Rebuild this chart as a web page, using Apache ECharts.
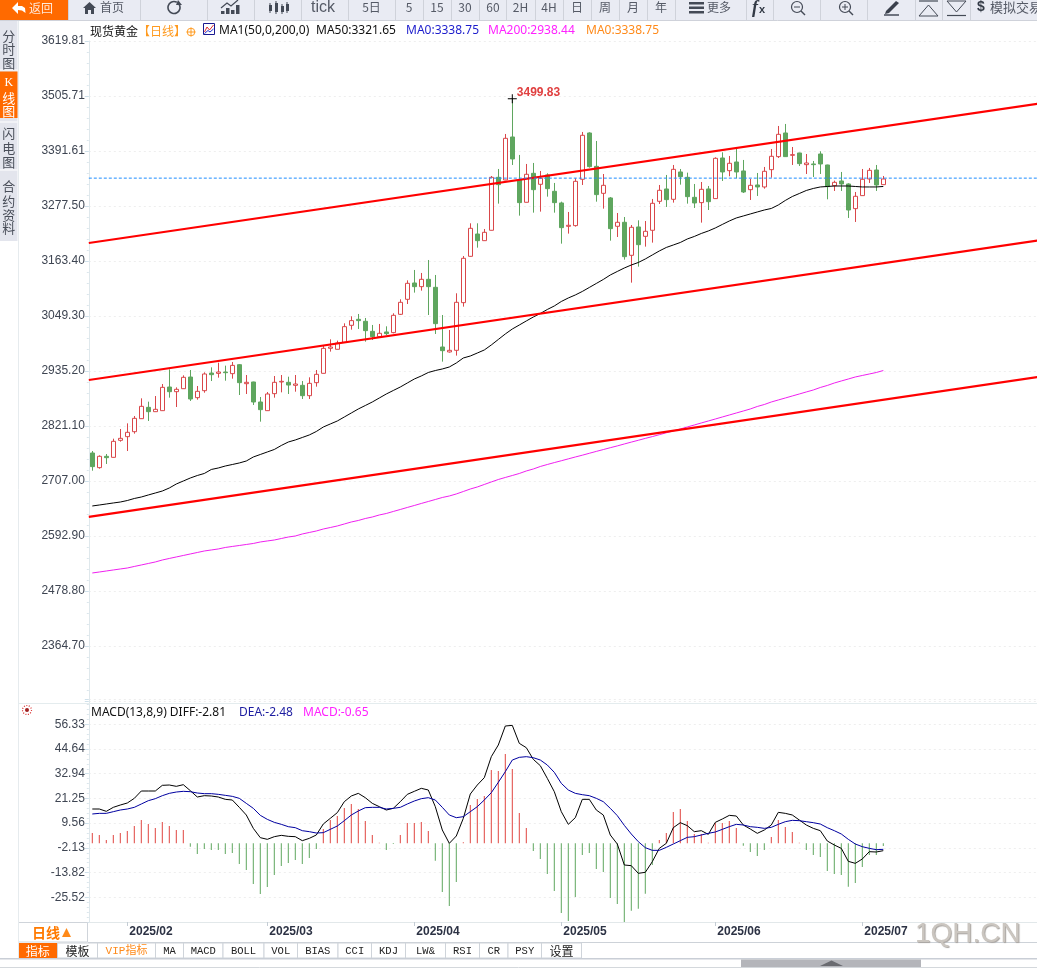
<!DOCTYPE html>
<html>
<head>
<meta charset="utf-8">
<script src="https://cdn.jsdelivr.net/npm/echarts@6/dist/echarts.min.js"></script>
<style>html,body{margin:0;padding:0;background:#fff;overflow:hidden}#c{width:1037px;height:970px}</style>
</head>
<body>
<div id="c"></div>
<script>
// ---- data ----
const dates = ['2025/01/27','2025/01/28','2025/01/29','2025/01/30','2025/01/31',
'2025/02/03','2025/02/04','2025/02/05','2025/02/06','2025/02/07','2025/02/10','2025/02/11','2025/02/12','2025/02/13','2025/02/14','2025/02/17','2025/02/18','2025/02/19','2025/02/20','2025/02/21','2025/02/24','2025/02/25','2025/02/26','2025/02/27','2025/02/28',
'2025/03/03','2025/03/04','2025/03/05','2025/03/06','2025/03/07','2025/03/10','2025/03/11','2025/03/12','2025/03/13','2025/03/14','2025/03/17','2025/03/18','2025/03/19','2025/03/20','2025/03/21','2025/03/24','2025/03/25','2025/03/26','2025/03/27','2025/03/28','2025/03/31',
'2025/04/01','2025/04/02','2025/04/03','2025/04/04','2025/04/07','2025/04/08','2025/04/09','2025/04/10','2025/04/11','2025/04/14','2025/04/15','2025/04/16','2025/04/17','2025/04/21','2025/04/22','2025/04/23','2025/04/24','2025/04/25','2025/04/28','2025/04/29','2025/04/30',
'2025/05/01','2025/05/02','2025/05/05','2025/05/06','2025/05/07','2025/05/08','2025/05/09','2025/05/12','2025/05/13','2025/05/14','2025/05/15','2025/05/16','2025/05/19','2025/05/20','2025/05/21','2025/05/22','2025/05/23','2025/05/26','2025/05/27','2025/05/28','2025/05/29','2025/05/30',
'2025/06/02','2025/06/03','2025/06/04','2025/06/05','2025/06/06','2025/06/09','2025/06/10','2025/06/11','2025/06/12','2025/06/13','2025/06/16','2025/06/17','2025/06/18','2025/06/19','2025/06/20','2025/06/23','2025/06/24','2025/06/25','2025/06/26','2025/06/27','2025/06/30',
'2025/07/01','2025/07/02','2025/07/03','2025/07/04'];
const emptySlots = 22;
const monthStarts = ['2025/02/03','2025/03/03','2025/04/01','2025/05/01','2025/06/02','2025/07/01'];

// open, close, low, high
const candles = [
[2765.1,2736.8,2728.4,2769.2],[2734.7,2758.2,2732.6,2760.2],[2758.2,2755.4,2742.3,2763.0],[2756.1,2789.3,2755.5,2794.8],[2791.4,2795.5,2788.6,2814.9],
[2799.0,2808.0,2769.2,2826.6],[2809.3,2837.0,2805.2,2841.8],[2836.3,2861.9,2836.0,2878.5],[2859.8,2850.8,2831.5,2871.6],[2850.8,2855.7,2850.5,2883.3],
[2852.9,2901.3,2852.6,2908.2],[2902.0,2892.3,2879.9,2938.6],[2892.3,2897.2,2860.5,2901.3],[2898.5,2922.1,2898.2,2926.2],[2922.7,2877.1,2873.0,2937.3],
[2879.9,2893.0,2875.7,2904.1],[2894.4,2929.0,2890.2,2932.4],[2931.0,2927.6,2914.4,2942.8],[2930.3,2933.1,2921.4,2952.5],[2933.1,2931.7,2915.1,2946.3],
[2929.7,2946.9,2919.3,2953.9],[2948.3,2911.0,2885.4,2949.7],[2908.9,2911.7,2887.5,2926.9],[2912.4,2870.9,2864.7,2913.0],[2870.9,2855.0,2830.1,2881.3],
[2852.9,2887.5,2852.6,2891.6],[2888.2,2911.7,2879.9,2924.8],[2912.4,2913.8,2890.9,2926.9],[2911.7,2906.1,2887.5,2923.4],[2905.5,2908.2,2892.3,2926.9],
[2905.5,2884.0,2877.1,2914.4],[2884.0,2909.6,2877.1,2922.1],[2911.0,2928.3,2902.7,2937.3],[2930.4,2982.2,2930.1,2989.1],[2982.3,2985.0,2975.4,3000.9],
[2980.2,2993.3,2980.0,2998.2],[2994.7,3027.2,2994.5,3034.1],[3030.0,3039.7,3021.0,3048.7],[3042.4,3039.7,3022.4,3053.5],[3038.3,3018.9,2996.1,3045.2],
[3017.5,3006.5,2999.6,3030.7],[3006.5,3013.4,3005.1,3032.8],[3016.2,3012.7,3009.9,3027.9],[3014.8,3050.7,3013.4,3054.9],[3052.8,3077.7,3051.4,3083.9],
[3083.9,3117.1,3074.2,3123.3],[3117.8,3110.2,3097.8,3144.8],[3110.2,3125.4,3101.9,3138.6],[3125.4,3110.2,3051.4,3165.5],[3108.8,3033.4,3012.0,3134.4],
[2985.0,2977.4,2954.6,3051.4],[2974.7,2978.1,2973.3,3020.3],[2978.1,3077.7,2967.1,3096.4],[3077.0,3169.0,3068.7,3173.8],[3173.1,3231.2,3172.4,3241.6],
[3219.4,3205.6,3191.1,3241.6],[3205.6,3222.9,3205.3,3229.8],[3227.1,3337.0,3226.8,3339.8],[3337.0,3321.8,3282.4,3354.3],[3331.5,3417.9,3331.2,3426.9],
[3420.7,3375.1,3362.6,3499.83],[3331.5,3284.5,3257.5,3383.4],[3285.2,3343.3,3285.0,3364.7],[3345.3,3311.4,3263.7,3366.8],[3322.5,3335.0,3265.8,3350.2],
[3341.9,3313.5,3296.9,3345.3],[3308.0,3284.5,3263.7,3325.3],[3283.8,3232.6,3199.4,3286.5],[3235.4,3237.5,3220.2,3265.1],[3236.8,3328.7,3234.7,3335.0],
[3332.9,3424.2,3321.1,3431.1],[3429.0,3359.2,3357.1,3430.4],[3359.8,3301.1,3286.5,3412.4],[3303.8,3320.4,3272.0,3343.9],[3294.2,3230.5,3205.6,3296.2],
[3235.4,3243.7,3213.2,3263.0],[3243.7,3172.4,3166.2,3254.7],[3175.2,3233.3,3118.5,3238.1],[3234.0,3197.3,3151.7,3247.8],[3214.6,3225.0,3193.2,3246.4],
[3227.1,3283.1,3201.5,3292.1],[3287.2,3310.1,3281.7,3321.1],[3312.8,3290.7,3275.5,3341.9],[3291.4,3353.6,3284.5,3362.6],[3348.1,3338.4,3321.8,3354.3],
[3337.0,3296.9,3282.4,3346.7],[3295.5,3283.8,3273.4,3323.2],[3284.5,3312.1,3243.0,3327.3],[3312.8,3286.5,3269.2,3319.0],[3292.8,3376.4,3292.5,3378.5],
[3377.1,3348.1,3329.4,3388.9],[3350.8,3366.1,3339.1,3381.3],[3368.8,3348.1,3334.9,3397.9],[3350.2,3306.6,3304.5,3373.0],[3311.4,3320.4,3290.0,3333.6],
[3321.1,3317.0,3298.3,3346.0],[3317.0,3349.5,3313.5,3358.5],[3352.9,3380.6,3336.3,3395.8],[3379.9,3426.2,3377.1,3443.5],[3429.0,3379.9,3379.6,3447.7],
[3382.7,3384.0,3362.6,3399.9],[3387.5,3365.4,3360.5,3388.0],[3363.3,3366.7,3343.9,3385.4],[3364.7,3363.3,3337.7,3370.9],[3385.4,3364.7,3343.9,3391.0],
[3362.6,3317.7,3291.4,3363.2],[3319.7,3326.6,3308.7,3330.1],[3329.4,3323.2,3308.7,3348.1],[3323.2,3269.2,3252.7,3324.6],[3272.0,3297.6,3244.4,3306.6],
[3299.0,3332.9,3298.7,3354.3],[3333.5,3351.5,3325.3,3356.4],[3352.2,3321.1,3308.7,3362.6],[3321.8,3333.5,3321.5,3339.8]];

const ma50 = [2655.2,2657.2,2659.3,2661.4,2663.4,2666.5,2670.7,2673.8,2678.0,2682.1,2686.2,2692.5,2700.8,2707.0,2713.2,2718.4,2722.6,2730.9,2734.0,2738.1,2741.2,2744.4,2748.5,2756.8,2762.0,2767.2,2772.4,2780.7,2787.9,2792.1,2797.3,2802.5,2809.7,2819.0,2825.3,2831.5,2839.8,2848.1,2856.4,2863.6,2870.9,2879.2,2887.5,2894.8,2902.0,2910.3,2918.6,2924.9,2932.1,2936.2,2939.4,2943.5,2951.8,2962.2,2966.3,2972.5,2978.8,2989.2,3000.6,3012.0,3022.3,3030.6,3039.0,3047.2,3054.5,3062.8,3070.1,3079.4,3086.7,3092.9,3100.2,3108.5,3116.8,3125.1,3134.4,3141.7,3148.9,3155.1,3160.3,3167.6,3175.9,3184.2,3191.5,3196.6,3201.8,3209.1,3214.3,3220.5,3225.7,3231.9,3239.2,3246.4,3252.7,3256.8,3261.0,3265.1,3269.2,3272.4,3279.6,3289.0,3297.2,3303.4,3309.7,3313.9,3317.0,3318.0,3319.0,3319.0,3319.0,3318.0,3317.0,3317.0,3317.0,3318.0];
const ma200 = [2516.2,2518.2,2520.3,2522.4,2524.5,2526.5,2529.7,2532.8,2535.9,2539.0,2543.1,2546.3,2549.4,2552.5,2555.6,2558.7,2561.8,2563.9,2566.0,2569.1,2571.2,2573.2,2575.3,2577.4,2580.5,2582.6,2584.6,2587.7,2590.8,2592.9,2597.1,2600.2,2603.3,2607.4,2610.5,2613.7,2617.8,2622.0,2625.1,2629.2,2632.3,2636.5,2639.6,2643.8,2647.9,2652.1,2656.2,2660.4,2664.5,2668.6,2672.8,2675.9,2680.1,2685.2,2690.4,2694.6,2699.8,2705.0,2710.1,2714.3,2718.4,2722.6,2727.8,2731.9,2737.1,2741.2,2745.2,2749.0,2752.9,2756.8,2760.5,2764.5,2768.4,2772.2,2776.1,2779.8,2783.8,2787.7,2791.5,2795.4,2799.1,2803.1,2807.0,2810.8,2814.9,2819.1,2823.2,2827.4,2831.5,2835.6,2839.8,2843.9,2848.1,2852.2,2856.4,2861.6,2865.7,2870.9,2875.1,2879.2,2883.4,2887.5,2891.7,2895.8,2901.0,2905.2,2910.3,2914.5,2918.6,2922.8,2925.9,2929.0,2932.1,2936.2];

// straight drawn trend lines: [candle slot, price] at each end
const channelUpper = [[-0.5,3200.8],[135.5,3490.4]];
const channelMiddle = [[-0.5,2916.6],[135.5,3207.0]];
const channelLower = [[-0.5,2632.4],[135.5,2923.6]];
const lastPriceLine = [[-0.5,3335.3],[135.5,3335.3]];

const diff = [16.25,16.25,15.15,17.04,18.14,19.09,21.30,24.77,24.77,24.77,27.45,27.61,26.98,27.76,24.93,21.93,22.56,22.40,21.93,20.83,20.51,17.04,13.41,7.11,2.69,1.90,3.16,3.79,3.32,3.16,1.27,2.37,3.95,9.16,11.84,14.52,19.72,22.40,23.66,21.61,18.93,17.36,15.78,16.57,19.72,23.19,24.61,26.03,25.24,17.36,6.32,0.01,3.48,11.84,23.35,27.61,31.08,41.01,46.53,55.52,55.83,47.32,45.27,39.75,36.75,30.76,24.45,14.99,9.00,12.15,20.83,20.83,15.78,13.41,3.95,-0.31,-10.24,-10.56,-14.18,-13.71,-8.67,-2.36,0.01,7.42,9.78,8.37,5.53,6.00,4.26,9.94,11.52,13.25,12.94,8.68,6.79,4.74,6.31,8.68,14.67,14.20,13.41,11.05,8.68,7.10,6.00,1.11,-0.78,-2.36,-8.51,-9.46,-7.40,-3.94,-4.09,-3.46];
const dea = [13.89,14.20,14.20,14.99,15.78,16.25,17.04,18.62,20.19,21.14,22.56,23.66,24.29,24.61,24.45,23.82,23.51,23.51,23.19,22.72,22.24,21.30,18.93,16.57,13.26,11.36,9.94,9.00,7.89,7.42,6.00,5.53,4.90,5.06,6.63,8.21,10.73,13.41,15.31,16.88,17.04,17.04,16.25,16.57,17.04,18.62,20.04,21.14,21.61,20.51,17.04,13.41,12.15,12.62,14.99,17.36,20.51,23.98,28.87,33.91,39.43,40.70,41.01,40.54,39.43,37.07,33.60,28.39,25.24,23.66,23.03,22.56,21.30,19.72,16.57,13.10,8.52,4.42,0.80,-2.04,-3.30,-3.30,-1.89,-0.31,1.27,2.85,3.16,3.95,4.74,5.37,6.63,7.89,9.00,8.68,7.89,7.58,7.10,7.58,9.00,10.26,10.89,10.73,10.26,9.78,9.15,7.42,6.00,4.42,1.90,-0.31,-1.57,-2.36,-2.99,-2.83];
const macdHist = [4.90,3.95,1.59,3.95,4.90,5.84,8.21,11.05,9.16,7.26,10.10,8.21,6.32,6.32,-1.57,-5.04,-2.67,-3.15,-3.15,-5.04,-4.56,-9.77,-12.61,-19.23,-23.96,-20.65,-14.97,-10.71,-9.30,-7.88,-9.77,-6.93,-2.67,6.79,11.05,12.94,16.73,18.62,16.25,10.57,3.95,0.30,-3.15,-0.30,3.95,9.63,9.63,10.10,5.84,-8.19,-23.02,-29.64,-18.28,0.48,18.14,20.98,22.40,34.70,34.23,42.27,35.18,14.36,7.26,-3.62,-7.40,-14.50,-22.54,-32.95,-36.74,-25.38,-5.51,-4.56,-12.13,-13.55,-25.85,-28.69,-37.21,-31.85,-30.90,-23.81,-10.24,1.58,4.90,14.83,16.25,10.57,4.42,4.42,0.30,9.63,9.63,10.57,7.26,-1.10,-4.09,-5.99,-3.15,3.00,11.05,7.73,5.37,0.30,-3.15,-5.51,-6.46,-13.08,-14.50,-14.97,-20.49,-18.76,-11.19,-5.51,-5.51,-1.25];

const priceTickLabels = ['','2364.70','2478.80','2592.90','2707.00','2821.10','2935.20','3049.30','3163.40','3277.50','3391.61','3505.71','3619.81'];
const macdTickLabels = ['','-25.52','-13.82','-2.13','9.56','21.25','32.94','44.64','56.33',''];
const peakHighIndex = 60;
const peakHigh = 3499.83;

// ---- scales ----
const priceMin = 2250.6, priceStep = 114.1;
const macdMin = -37.21, macdStep = 11.692;

const RED = '#d9474a', GREEN = '#5fa65f';
const categories = dates.concat(new Array(emptySlots).fill(''));

const sans = '"Liberation Sans","Noto Sans CJK SC",sans-serif';
const noto = '"Noto Sans","Noto Sans CJK SC",sans-serif';
const cjk = '"Noto Sans CJK SC",sans-serif';

// ---- page furniture drawn as graphic elements ----
const g = [];
function rect(x,y,w,h,fill,stroke){g.push({type:'rect',silent:true,z:20,shape:{x,y,width:w,height:h},style:{fill:fill||'none',stroke:stroke||'none',lineWidth:1}});}
function txt(x,y,text,color,size,opts){opts=opts||{};g.push({type:'text',silent:true,z:21,x,y:y+1,style:{text,fill:color,font:(opts.weight?opts.weight+' ':'')+(opts.style?opts.style+' ':'')+size+'px '+(opts.family||noto),textAlign:opts.align||'left',textVerticalAlign:'middle',textShadowColor:opts.shadow,textShadowBlur:opts.shadow?1:0,textShadowOffsetX:opts.shadow?1:0,textShadowOffsetY:opts.shadow?1:0}});}
function ln(x1,y1,x2,y2,color,w){g.push({type:'line',silent:true,z:21,shape:{x1,y1,x2,y2},style:{stroke:color,lineWidth:w||1}});}
function poly(points,closed,fill,stroke,w){g.push({type:closed?'polygon':'polyline',silent:true,z:21,shape:{points},style:{fill:fill||'none',stroke:stroke||'none',lineWidth:w||1}});}
function circ(cx,cy,r,fill,stroke,w,dash){g.push({type:'circle',silent:true,z:21,shape:{cx,cy,r},style:{fill:fill||'none',stroke:stroke||'none',lineWidth:w||1,lineDash:dash}});}

// top toolbar
const barBg='#e9ebf3', barLine='#cfd2da', barText='#555a66', iconInk='#444a56';
rect(0,0,1037,20,barBg);
ln(0,20.5,1037,20.5,barLine);
[68.5,140.5,207.5,254.5,301.5,348.5,395.5,423.5,451.5,479.5,506.5,535.5,563.5,591.5,619.5,647.5,675.5,746.5,773.5,820.5,867.5,915.5,942.5,970.5].forEach(x=>ln(x,0,x,20,barLine));
rect(0,0,68,20,'#ff6a00');
poly([[12,8],[18,2],[18,6],[22,6],[25,8],[25.5,13],[22,10.5],[18,10],[18,14]],true,'#fff');
txt(29,7,'返回','#ffe8d8',12,{family:cjk});
poly([[83,8],[89.5,2],[96,8],[94,8],[94,14],[91,14],[91,10],[88,10],[88,14],[85,14],[85,8]],true,iconInk);
txt(100,6.5,'首页',barText,12,{family:cjk});
g.push({type:'arc',silent:true,z:21,shape:{cx:174,cy:7.5,r:6,startAngle:-0.5,endAngle:5.2},style:{fill:'none',stroke:iconInk,lineWidth:1.6}});
poly([[178,0],[182,5],[176,5]],true,iconInk);
[[221,10,3],[226,7,6],[231,9,4],[236,4,9]].forEach(b=>rect(b[0],b[1]+1,3.5,b[2],iconInk));
poly([[221,8],[227,3],[231,6],[238,0]],false,'none',iconInk,1.2);
[[269,5,6],[275,3,9],[281,6,6],[286,4,7]].forEach(b=>{ln(b[0]+1,b[1]-2,b[0]+1,b[1]+b[2]+2,iconInk);rect(b[0],b[1],3,b[2],iconInk);});
txt(311,7,'tick',barText,16,{family:sans});
[['5日',371.5],['5',409],['15',437],['30',465],['60',493],['2H',520.5],['4H',549],['日',577],['周',605],['月',633],['年',661]].forEach(t=>txt(t[1],6.5,t[0],barText,12,{align:'center',family:cjk}));
rect(689,2,15,2.5,iconInk);rect(689,6.5,15,2.5,iconInk);rect(689,11,15,2.5,iconInk);
txt(707,6,'更多',barText,12,{family:cjk});
txt(752,7.5,'f',"#333a46",18,{weight:'bold',style:'italic',family:'"Liberation Serif",serif'});
txt(759,9,'x',"#333a46",11,{weight:'bold',family:sans});
circ(797,7,5.5,'none',iconInk,1.2);ln(794,7,800,7,iconInk);ln(801,11,805,15,iconInk,1.4);
circ(845,7,5.5,'none',iconInk,1.2);ln(842,7,848,7,iconInk);ln(845,4,845,10,iconInk);ln(849,11,853,15,iconInk,1.4);
poly([[886,11],[896,1],[899,3],[889,13],[885,14]],true,'#3a404c');ln(884,15,899,15,'#3a404c',1.4);
ln(919,1,938,1,iconInk,1.2);poly([[919,16],[928.5,5],[938,16]],true,'none',iconInk,1);
poly([[947,1],[956.5,12],[966,1]],true,'none',iconInk,1);ln(947,15.5,966,15.5,iconInk,1.2);
txt(977,6.5,'$','#333a46',14,{weight:'bold',family:sans});
txt(990,6.5,'模拟交易',barText,13,{family:cjk});

// left sidebar
rect(0,21,17.5,220,'#e3e5ed');
rect(0,71.5,17.5,46.5,'#ff6a00');
ln(0,70,17.5,70,'#fff');ln(0,122,17.5,122,'#fff');ln(0,170,17.5,170,'#fff');
[['分',35],['时',48.5],['图',62],['闪',132],['电',147],['图',161],['合',185],['约',200],['资',214],['料',227]].forEach(t=>txt(8.8,t[1],t[0],'#4a4f5a',13,{align:'center',family:cjk}));
txt(8.8,82,'K','#fff',12,{align:'center',family:'"Liberation Serif",serif'});
txt(8.8,97,'线','#fff',13,{align:'center',family:cjk});
txt(8.8,110,'图','#fff',13,{align:'center',family:cjk});
ln(18.5,21,18.5,958,'#e6ebee');

// header line
txt(90,30,'现货黄金','#111',12,{family:cjk});
txt(138,30,'【日线】','#ff9a1f',12,{family:cjk});
circ(191,32,3.8,'none','#ff9a1f',1);ln(186.5,32,195.5,32,'#ff9a1f');ln(191,27.5,191,36.5,'#ff9a1f');
rect(203.5,23.5,11,11,'#fff','#1a1a90');
poly([[204.5,32],[207,27],[209.5,30],[213.5,25]],false,'none','#e03030',1);
poly([[204.5,33.5],[208,30.5],[210,32],[213.5,29]],false,'none','#2030d0',1);
txt(219,30,'MA1(50,0,200,0)','#111',12);
txt(316,30,'MA50:3321.65','#111',12);
txt(406,30,'MA0:3338.75','#1c1ccc',12);
txt(488,30,'MA200:2938.44','#ff22ff',12);
txt(586,30,'MA0:3338.75','#ff8a1a',12);

// macd legend
ln(18,703.5,1037,703.5,'#e4ecee');
circ(27,710,4.5,'none','#d83030',1.2,[1,1.5]);circ(27,710,2,'#a02020');
txt(91,712,'MACD(13,8,9) DIFF:-2.81','#111',12);
txt(239,712,'DEA:-2.48','#1c1ca0',12);
txt(303,712,'MACD:-0.65','#ff22ff',12);

// date row + tab bar
ln(88,942.5,1037,942.5,'#cdd2d8');
rect(18.5,922.5,69,19.5,'#fff','#cfd4da');
txt(32,932,'日线','#ff7a00',14,{weight:'bold',family:cjk});
poly([[62,937],[66.5,928],[71,937]],true,'#ff8a1a');
const tabs=[['模板',57.5,97.5],['VIP指标',97.5,155.5],['MA',155.5,183.5],['MACD',183.5,223],['BOLL',223,264],['VOL',264,297.5],['BIAS',297.5,338],['CCI',338,371.5],['KDJ',371.5,405.5],['LW&',405.5,445.5],['RSI',445.5,479.5],['CR',479.5,508],['PSY',508,541.5],['设置',541.5,581.5]];
rect(18,943,39.5,15,'#ff6a00');
txt(37.7,950,'指标','#fff',12,{align:'center',family:cjk});
tabs.forEach((t,i)=>{
  rect(t[1],943,t[2]-t[1],15,'#fff','#cfd4da');
  const isCjk=/[\u4e00-\u9fff]/.test(t[0]);
  const color=i===1?'#ff8a1a':'#222';
  txt((t[1]+t[2])/2,950,t[0],color,isCjk&&i!==1?12:(i===1?11:10.5),{align:'center',family:isCjk?(i===1?'"Liberation Mono","Noto Sans CJK SC",monospace':cjk):'"Liberation Mono",monospace'});
});
rect(0,958,1037,1.5,'#c9ced6');
rect(741,959.5,180,8,'#b4b5ba');
poly([[820,966],[831.5,960.5],[843,966]],true,'#6a6b70');
ln(0,967.5,1037,967.5,'#d4d8dc');

// watermark
txt(915,933,'1QH.CN','#cbc6c0',28,{family:sans,shadow:'#a8a4a0'});

// ---- chart ----
const lineOn = (data,color,width,extra)=>Object.assign({type:'line',data,symbol:'none',showSymbol:false,silent:true,animation:false,lineStyle:{color,width}},extra||{});
const overlay = {xAxisIndex:2,yAxisIndex:0};
const axisText='#3e4552';
const chart = echarts.init(document.getElementById('c'),null,{renderer:'canvas',width:1037,height:970});
chart.setOption({
  animation:false,
  backgroundColor:'#fff',
  tooltip:{show:false},
  graphic:g,
  grid:[
    {left:88.8,top:41,width:952,height:660,outerBoundsMode:'none'},
    {left:88.8,top:699.6,width:952,height:222.4,outerBoundsMode:'none'}
  ],
  xAxis:[
    {type:'category',gridIndex:0,data:categories,boundaryGap:true,axisLine:{show:false},axisTick:{show:false},axisLabel:{show:false},splitLine:{show:false}},
    {type:'category',gridIndex:1,data:categories,boundaryGap:true,
      axisLine:{onZero:false,lineStyle:{color:'#e2e8ea'}},
      axisTick:{show:true,alignWithLabel:true,length:4,lineStyle:{color:'#c4ccd4'},interval:(i,v)=>monthStarts.includes(v)},
      axisLabel:{show:true,interval:(i,v)=>monthStarts.includes(v),formatter:v=>v.slice(0,7),align:'left',margin:4,padding:[0,0,0,2],color:'#2c3244',fontSize:12,fontWeight:'bold',fontFamily:sans,hideOverlap:false},
      splitLine:{show:false}},
    {type:'value',gridIndex:0,position:'top',min:-0.5,max:135.5,show:false,splitLine:{show:false}}
  ],
  yAxis:[
    {type:'value',gridIndex:0,min:priceMin,max:priceMin+12*priceStep,interval:priceStep,
      axisLine:{show:true,onZero:false,lineStyle:{color:'#dfe8ec'}},
      axisTick:{show:true,length:4,lineStyle:{color:'#cfe0ea'}},
      minorTick:{show:true,splitNumber:5,length:2,lineStyle:{color:'#dbe6ec'}},
      splitLine:{show:true,lineStyle:{color:'#eeeeee',type:[2,3],width:1}},
      axisLabel:{margin:4,padding:[2,0,0,0],color:axisText,fontSize:12,fontFamily:sans,
        formatter:v=>priceTickLabels[Math.round((v-priceMin)/priceStep)]||''}},
    {type:'value',gridIndex:1,min:macdMin,max:macdMin+9*macdStep,interval:macdStep,
      axisLine:{show:true,onZero:false,lineStyle:{color:'#dfe8ec'}},
      axisTick:{show:true,length:4,lineStyle:{color:'#cfe0ea'}},
      minorTick:{show:true,splitNumber:5,length:2,lineStyle:{color:'#dbe6ec'}},
      splitLine:{show:true,lineStyle:{color:'#eeeeee',type:[2,3],width:1}},
      axisLabel:{margin:4,padding:[2,0,0,0],color:axisText,fontSize:12,fontFamily:sans,
        formatter:v=>macdTickLabels[Math.round((v-macdMin)/macdStep)]||''}}
  ],
  series:[
    {type:'candlestick',xAxisIndex:0,yAxisIndex:0,data:candles,barWidth:5,silent:true,
      itemStyle:{color:'#fff',color0:GREEN,borderColor:RED,borderColor0:GREEN,borderWidth:1},
      markPoint:{silent:true,animation:false,
        data:[{coord:[peakHighIndex,peakHigh],symbol:'path://M4 0H5V9H4ZM0 4H9V5H0Z',symbolSize:9,
          itemStyle:{color:'#000'},
          label:{show:true,formatter:peakHigh.toFixed(2),position:'right',distance:0,offset:[0,-6],color:'#e04040',fontWeight:'bold',fontSize:12,fontFamily:sans}}]}},
    lineOn(ma50,'#000',1,{xAxisIndex:0,yAxisIndex:0}),
    lineOn(ma200,'#f020f0',1,{xAxisIndex:0,yAxisIndex:0}),
    lineOn(channelUpper,'#ff0000',2.2,overlay),
    lineOn(channelMiddle,'#ff0000',2.2,overlay),
    lineOn(channelLower,'#ff0000',2.2,overlay),
    lineOn(lastPriceLine,'#1e8cff',1,Object.assign({},overlay,{lineStyle:{color:'#1e8cff',width:1,type:[3,2]}})),
    {type:'bar',xAxisIndex:1,yAxisIndex:1,barWidth:1,silent:true,
      data:macdHist.map(v=>({value:v,itemStyle:{color:v>=0?'#e0453f':GREEN}}))},
    lineOn(diff,'#000',1,{xAxisIndex:1,yAxisIndex:1}),
    lineOn(dea,'#0000a0',1,{xAxisIndex:1,yAxisIndex:1})
  ]
});
</script>
</body>
</html>
